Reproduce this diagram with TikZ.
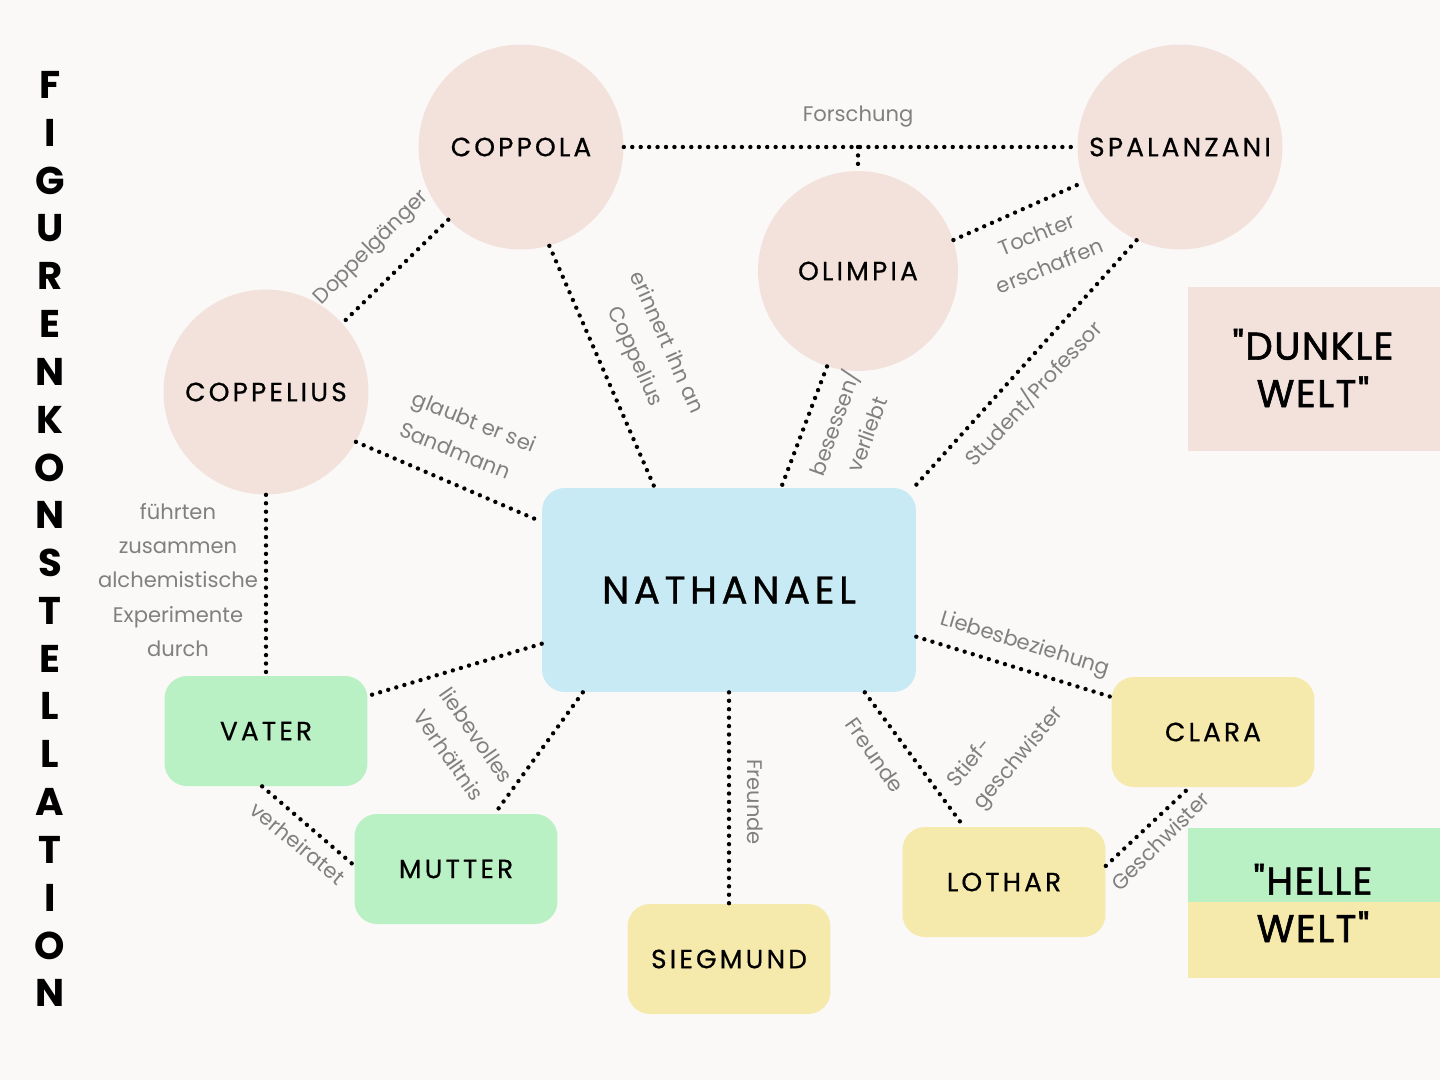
\documentclass[tikz,border=0pt]{standalone}
\usepackage{fontspec}
\setmainfont{Poppins}
\definecolor{bg}{HTML}{FAF9F8}
\definecolor{rose}{HTML}{F3E2DC}
\definecolor{skyblue}{HTML}{C8EAF4}
\definecolor{mint}{HTML}{B9F0C4}
\definecolor{sand}{HTML}{F5E9AB}
\definecolor{labelgray}{HTML}{808080}
\newcommand\namefont{\fontsize{15}{18}\selectfont\addfontfeature{LetterSpace=12,FakeBold=0.6}}
\newcommand\labelfont{\fontsize{12}{19.5}\selectfont}
\begin{document}
\begin{tikzpicture}[x=0.02cm, y=-0.02cm,
  blob/.style={circle, fill=rose, minimum size=4.1cm, inner sep=0pt, font=\namefont},
  card/.style={rectangle, rounded corners=0.45cm, minimum width=4.06cm, minimum height=2.2cm, font=\namefont},
  link/.style={line width=2.5pt, line cap=round, dash pattern=on 0pt off 4.8pt},
  rel/.style={text=labelgray, font=\labelfont, align=center, inner sep=1pt},
  titlech/.style={font=\fontsize{22}{22}\selectfont\bfseries},
  legend/.style={font=\fontsize{22}{27}\selectfont\addfontfeature{Ligatures=TeXOff,FakeBold=1.6,LetterSpace=4}, align=center}]
  \fill[bg] (0,0) rectangle (1440,1080);
  \useasboundingbox (0,0) rectangle (1440,1080);

  \foreach \ch [count=\i] in {F,I,G,U,R,E,N,K,O,N,S,T,E,L,L,A,T,I,O,N}
    \node[titlech] (t\i) at (50,{85+47.8*(\i-1)}) {\ch};

  \fill[rose] (1188,287) rectangle (1440,451);
  \fill[mint] (1188,828) rectangle (1440,902);
  \fill[sand] (1188,902) rectangle (1440,978);
  \node[legend] (dark) at (1313,368) {"DUNKLE\\WELT"};
  \node[legend] (light) at (1313,903) {"HELLE\\WELT"};

  \node[blob] (coppola) at (521,147) {COPPOLA};
  \node[blob] (spalanzani) at (1180,147) {SPALANZANI};
  \node[blob, minimum size=4cm] (olimpia) at (858,271) {OLIMPIA};
  \node[blob] (coppelius) at (266,392) {COPPELIUS};

  \node[card, fill=skyblue, minimum width=7.48cm, minimum height=4.08cm,
        font=\fontsize{22}{26}\selectfont\addfontfeature{LetterSpace=12,FakeBold=0.8}] (nath) at (729,590) {NATHANAEL};
  \node[card, fill=mint] (vater) at (266,731) {VATER};
  \node[card, fill=mint] (mutter) at (456,869) {MUTTER};
  \node[card, fill=sand] (siegmund) at (729,959) {SIEGMUND};
  \node[card, fill=sand] (lothar) at (1004,882) {LOTHAR};
  \node[card, fill=sand] (clara) at (1213,732) {CLARA};

  \coordinate (forsch) at (858,147);
  \draw[link] (coppola) -- (spalanzani);
  \draw[link] (forsch) -- (olimpia.north);
  \draw[link] (coppola.225) -- (coppelius.42);
  \draw[link] (coppola.-74) -- (nath.126);
  \draw[link] (coppelius.-29) -- (nath.160);
  \draw[link] (coppelius.south) -- (vater.north);
  \draw[link] (olimpia.18) -- (spalanzani.200);
  \draw[link] (olimpia.252) -- (nath.63);
  \draw[link] (spalanzani.245) -- (nath.29);
  \draw[link] (nath.196) -- (vater.19);
  \draw[link] (nath.215) -- (mutter.55);
  \draw[link] (vater.266) -- (mutter.178);
  \draw[link] (nath.south) -- (siegmund.north);
  \draw[link] (nath.-37) -- (lothar.126);
  \draw[link] (nath.-14) -- (clara.161);
  \draw[link] (lothar.9) -- (clara.247);

  \node[rel] (l1) at (858,117) {Forschung};
  \node[rel, rotate=45] (l2) at (372,248) {Doppelgänger};
  \node[rel, rotate=-66] (l3) at (650,350) {erinnert ihn an\\Coppelius};
  \node[rel, rotate=-22, align=left] (l4) at (468,437) {glaubt er sei\\Sandmann};
  \node[rel] (l5) at (178,580) {führten\\zusammen\\alchemistische\\Experimente\\durch};
  \node[rel, rotate=22] (l6) at (1043,250) {Tochter\\erschaffen};
  \node[rel, rotate=70] (l7) at (849,428) {besessen/\\verliebt};
  \node[rel, rotate=47] (l8) at (1033,393) {Student/Professor};
  \node[rel, rotate=-55] (l9) at (463,745) {liebevolles\\Verhältnis};
  \node[rel, rotate=-40] (l10) at (298,843) {verheiratet};
  \node[rel, rotate=-90] (l11) at (755,802) {Freunde};
  \node[rel, rotate=-55] (l12) at (875,755) {Freunde};
  \node[rel, rotate=-17] (l13) at (1025,645) {Liebesbeziehung};
  \node[rel, rotate=50, align=left] (l14) at (1006,748) {Stief-\\geschwister};
  \node[rel, rotate=45] (l15) at (1160,841) {Geschwister};
\end{tikzpicture}
\end{document}
